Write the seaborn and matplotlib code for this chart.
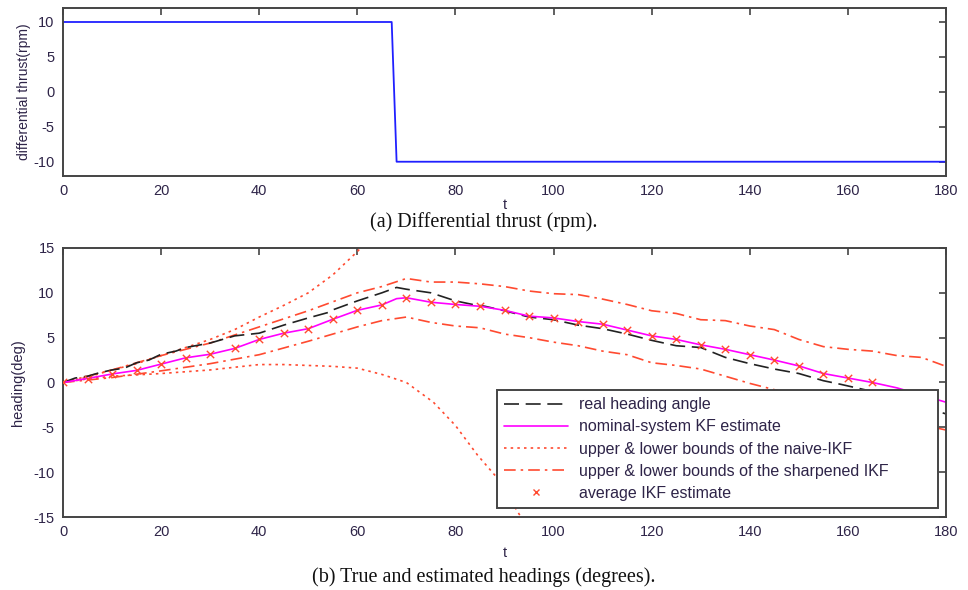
import matplotlib
matplotlib.use("Agg")
import matplotlib.pyplot as plt
import seaborn as sns
from matplotlib.lines import Line2D

sns.set_style("white")
plt.rcParams["font.family"] = ["Liberation Sans", "DejaVu Sans"]
plt.rcParams["axes.unicode_minus"] = False

# ------------------------------------------
# Data
# ------------------------------------------
t_thrust = [0, 67, 68, 180]
thrust = [10, 10, -10, -10]

t_real = [0, 2.5, 5, 7.5, 10, 12.5, 15, 17.5, 20, 23, 25, 30, 35, 40, 45,
          50, 54, 55, 60, 65, 68, 70, 75, 80, 83.5, 86, 90, 95, 100, 105,
          110, 115, 120, 125, 130, 135, 140, 145, 150, 155, 158.5, 165, 170, 175, 180]
real = [0, 0.5, 0.7, 1.1, 1.4, 1.6, 2.2, 2.5, 3.15, 3.5, 3.9, 4.4, 5.2, 5.5, 6.4,
        7.2, 7.8, 8.1, 9.1, 10.0, 10.6, 10.4, 10.0, 9.1, 8.7, 8.5, 8.0, 7.3, 7.0, 6.4,
        6.0, 5.4, 4.7, 4.1, 3.9, 2.8, 2.1, 1.5, 1.0, 0.2, -0.2, -1.0, -1.8, -2.7, -3.5]

t_kf = [0, 5, 10, 15, 20, 25, 30, 35, 40, 45, 50, 55, 60, 65, 68, 70, 75, 80, 85,
        90, 95, 100, 105, 110, 115, 120, 125, 130, 135, 140, 145, 150, 155, 160,
        165, 170, 175, 180]
kf = [0, 0.45, 0.95, 1.35, 2.05, 2.75, 3.15, 3.8, 4.8, 5.5, 6.0, 7.05, 8.05, 8.65,
      9.35, 9.45, 8.95, 8.7, 8.5, 8.05, 7.4, 7.2, 6.8, 6.5, 5.85, 5.2, 4.8, 4.2,
      3.7, 3.1, 2.5, 1.85, 1.0, 0.5, 0.0, -0.6, -1.4, -2.2]

t_naive_up = [0, 5, 10, 15, 20, 25, 30, 35, 40, 45, 50, 55, 60, 62]
naive_up = [0, 0.6, 1.4, 2.1, 3.0, 3.9, 4.8, 5.9, 7.3, 8.6, 10.0, 12.0, 14.6, 15.8]
t_naive_lo = [0, 5, 10, 20, 30, 40, 45, 50, 55, 60, 65, 70, 75.5, 80, 84.5, 88.6, 93, 95]
naive_lo = [0, 0.4, 0.7, 1.0, 1.4, 2.0, 2.0, 1.9, 1.8, 1.6, 0.9, 0.0, -2.2, -4.8,
            -8.1, -10.7, -14.7, -16]

t_sharp = [0, 10, 20, 30, 40, 50, 60, 65, 70, 75, 80, 85, 90, 95, 100, 105, 110,
           115, 120, 125, 130, 135, 140, 145, 150, 155, 160, 165, 170, 175, 180]
sharp_up = [0, 1.4, 3.0, 4.4, 6.2, 8.0, 10.0, 10.7, 11.6, 11.2, 11.2, 11.0, 10.7,
            10.2, 9.9, 9.8, 9.3, 8.7, 8.0, 7.7, 7.0, 6.9, 6.3, 5.9, 4.8, 4.0, 3.7,
            3.5, 3.0, 2.8, 1.8]
sharp_lo = [0, 0.55, 1.3, 2.1, 3.1, 4.6, 6.2, 6.9, 7.3, 6.7, 6.3, 6.1, 5.4, 5.0,
            4.5, 4.1, 3.5, 3.1, 2.2, 1.9, 1.5, 0.7, -0.1, -0.8, -1.5, -2.1, -2.8,
            -3.4, -4.0, -4.7, -5.3]

t_avg = [0, 5, 10, 15, 20, 25, 30, 35, 40, 45, 50, 55, 60, 65, 70, 75, 80, 85, 90,
         95, 100, 105, 110, 115, 120, 125, 130, 135, 140, 145, 150, 155, 160, 165]
avg = [0, 0.44, 0.93, 1.4, 2.04, 2.74, 3.15, 3.81, 4.81, 5.48, 6.0, 7.04, 8.04,
       8.63, 9.44, 8.96, 8.7, 8.5, 8.04, 7.41, 7.19, 6.78, 6.48, 5.85, 5.19, 4.81,
       4.22, 3.70, 3.11, 2.52, 1.85, 1.0, 0.48, 0.0]

legend_labels = ["real heading angle", "nominal-system KF estimate",
                 "upper & lower bounds of the naive-IKF",
                 "upper & lower bounds of the sharpened IKF",
                 "average IKF estimate"]

RED = "#ff4a30"
TICK_COLOR = "#2e2448"
DOT = (0, (1.5, 2.5))
DASHDOT = (0, (7, 3, 1.5, 3))
DASH = (0, (9, 4))

# ------------------------------------------
# Figure
# ------------------------------------------
fig = plt.figure(figsize=(9.68, 5.90), dpi=100)
ax1 = fig.add_axes([0.0651, 0.7022, 0.9122, 0.2842])
ax2 = fig.add_axes([0.0651, 0.1237, 0.9122, 0.4560])


def style_axes(ax):
    for s in ax.spines.values():
        s.set_color("#444444")
        s.set_linewidth(1.4)
    ax.tick_params(direction="in", length=5, width=1.2, color="#444444",
                   top=True, right=True, labelsize=10.5, labelcolor=TICK_COLOR,
                   pad=6)
    ax.set_xlim(0, 180)
    ax.set_xticks(range(0, 181, 20))
    ax.grid(False)


# (a) differential thrust
sns.lineplot(x=t_thrust, y=thrust, ax=ax1, color="#2020ff", linewidth=1.3)
style_axes(ax1)
ax1.set_ylim(-12, 12)
ax1.set_yticks([-10, -5, 0, 5, 10])
ax1.set_ylabel("differential thrust(rpm)", fontsize=10, color=TICK_COLOR, labelpad=2)
ax1.set_xlabel("t", fontsize=10.5, color=TICK_COLOR, labelpad=0)

# (b) headings
sns.lineplot(x=t_naive_up, y=naive_up, ax=ax2, color=RED, linewidth=1.2, linestyle=DOT)
sns.lineplot(x=t_naive_lo, y=naive_lo, ax=ax2, color=RED, linewidth=1.2, linestyle=DOT)
sns.lineplot(x=t_sharp, y=sharp_up, ax=ax2, color=RED, linewidth=1.2, linestyle=DASHDOT)
sns.lineplot(x=t_sharp, y=sharp_lo, ax=ax2, color=RED, linewidth=1.2, linestyle=DASHDOT)
sns.lineplot(x=t_real, y=real, ax=ax2, color="#222222", linewidth=1.2, linestyle=DASH)
sns.lineplot(x=t_kf, y=kf, ax=ax2, color="#ff00ff", linewidth=1.2)
sns.scatterplot(x=t_avg, y=avg, ax=ax2, color=RED, marker="x", s=28,
                linewidth=1.0, zorder=5)
style_axes(ax2)
ax2.set_ylim(-15, 15)
ax2.set_yticks([-15, -10, -5, 0, 5, 10, 15])
ax2.set_ylabel("heading(deg)", fontsize=10.5, color=TICK_COLOR, labelpad=6)
ax2.set_xlabel("t", fontsize=10.5, color=TICK_COLOR, labelpad=5)

handles = [
    Line2D([], [], color="#222222", linewidth=1.2, linestyle=DASH),
    Line2D([], [], color="#ff00ff", linewidth=1.2),
    Line2D([], [], color=RED, linewidth=1.2, linestyle=DOT),
    Line2D([], [], color=RED, linewidth=1.2, linestyle=DASHDOT),
    Line2D([], [], color=RED, linestyle="none", marker="x", markersize=5),
]
leg = ax2.legend(handles, legend_labels, loc="lower left",
                 bbox_to_anchor=(0.4915, 0.033, 0.4995, 0.457), mode="expand",
                 fontsize=11.5, frameon=True, fancybox=False, framealpha=1,
                 edgecolor="#444444", handlelength=4.0, handletextpad=0.7,
                 labelspacing=0.45, borderaxespad=0, borderpad=0.45)
leg.get_frame().set_linewidth(1.4)
for txt in leg.get_texts():
    txt.set_color(TICK_COLOR)

# captions
fig.text(0.5, 0.624, "(a) Differential thrust (rpm).", ha="center", va="center",
         family="Liberation Serif", fontsize=14.5, color="#111111")
fig.text(0.5, 0.021, "(b) True and estimated headings (degrees).", ha="center",
         va="center", family="Liberation Serif", fontsize=14.5, color="#111111")

fig.savefig("out.png", dpi=100)
